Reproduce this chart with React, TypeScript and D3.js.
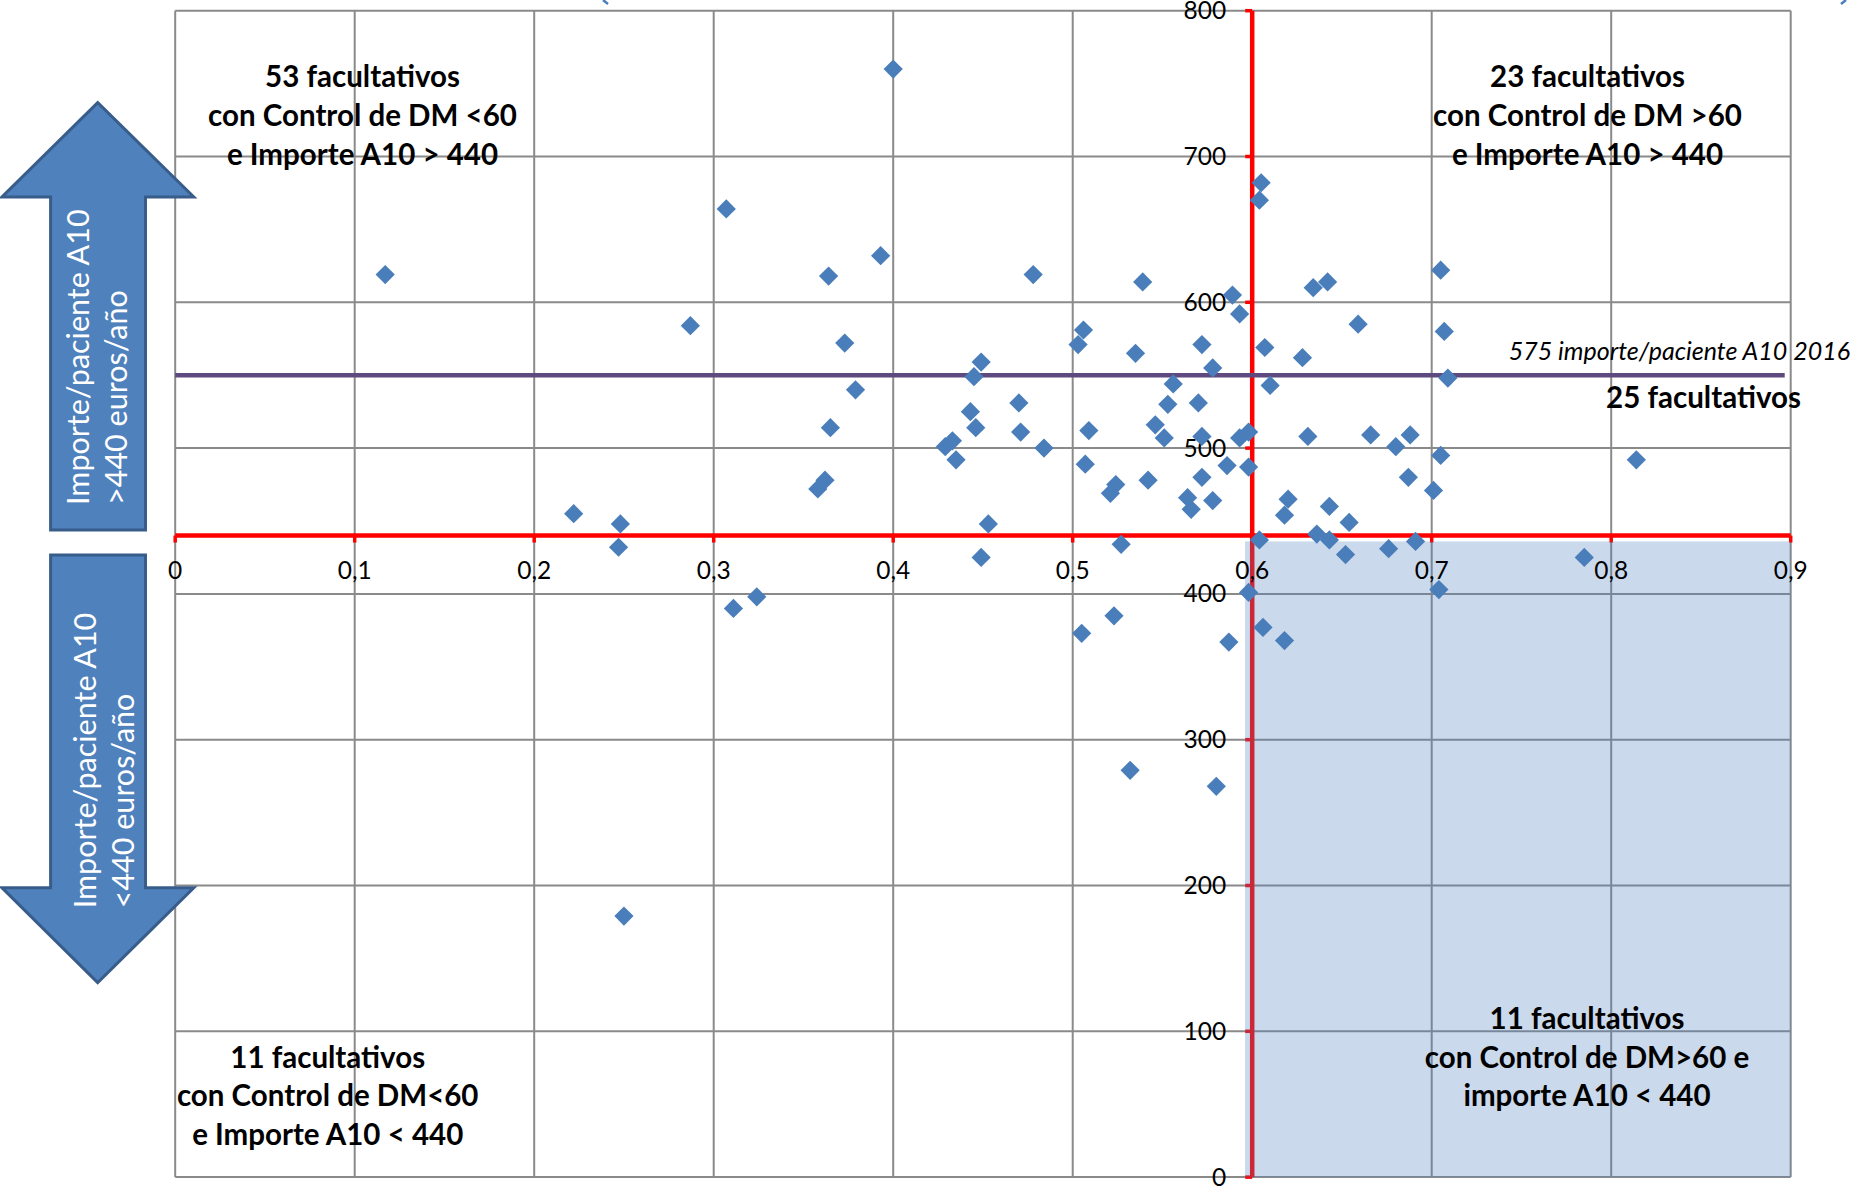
import React from "react";
import * as d3 from "d3";

// Control DM (fraction) per facultativo
const controlDM = [
  0.117, 0.222, 0.247, 0.248, 0.250, 0.287, 0.307, 0.311, 0.324, 0.358,
  0.362, 0.364, 0.365, 0.373, 0.379, 0.393, 0.400, 0.429, 0.433, 0.435,
  0.443, 0.445, 0.446, 0.449, 0.449, 0.453, 0.470, 0.471, 0.478, 0.484,
  0.503, 0.505, 0.506, 0.507, 0.509, 0.521, 0.523, 0.524, 0.527, 0.532,
  0.535, 0.539, 0.542, 0.546, 0.551, 0.553, 0.556, 0.564, 0.566, 0.570,
  0.572, 0.572, 0.572, 0.578, 0.578, 0.580, 0.586, 0.587, 0.589, 0.593,
  0.593, 0.598, 0.598, 0.598, 0.604, 0.604, 0.605, 0.606, 0.607, 0.610,
  0.618, 0.618, 0.620, 0.628, 0.631, 0.634, 0.636, 0.642, 0.643, 0.643,
  0.652, 0.654, 0.659, 0.666, 0.676, 0.680, 0.687, 0.688, 0.691, 0.701,
  0.704, 0.705, 0.705, 0.707, 0.709, 0.785, 0.814,
];
// Importe/paciente A10 (euros/año)
const importe = [
  619, 455, 432, 448, 179, 584, 664, 390, 398, 472,
  478, 618, 514, 572, 540, 632, 760, 501, 505, 492,
  525, 549, 514, 559, 425, 448, 531, 511, 619, 500,
  571, 373, 581, 489, 512, 469, 385, 475, 434, 279,
  565, 614, 478, 516, 507, 530, 544, 466, 458, 531,
  571, 508, 480, 555, 464, 268, 488, 367, 605, 592,
  507, 511, 487, 401, 437, 670, 682, 377, 569, 543,
  454, 368, 465, 562, 508, 610, 441, 614, 460, 437,
  427, 449, 585, 509, 431, 501, 480, 509, 436, 471,
  403, 622, 495, 580, 548, 425, 492,
];

const xTicks = [0, 0.1, 0.2, 0.3, 0.4, 0.5, 0.6, 0.7, 0.8, 0.9];
const xTickLabels = ["0", "0,1", "0,2", "0,3", "0,4", "0,5", "0,6", "0,7", "0,8", "0,9"];
const yTicks = [0, 100, 200, 300, 400, 500, 600, 700, 800];
const yTickLabels = ["0", "100", "200", "300", "400", "500", "600", "700", "800"];

const xThreshold = 0.6;
const yThreshold = 440;
const refLineValue = 550;
const refLineLabel = "575 importe/paciente A10 2016";
const refLineCount = "25 facultativos";
const shadeX = [0.596, 0.9];
const shadeY = [0, 436];

const quadTopLeft = ["53 facultativos", "con Control de DM <60", "e Importe A10 > 440"];
const quadTopRight = ["23 facultativos", "con Control de DM >60", "e Importe A10 > 440"];
const quadBottomLeft = ["11 facultativos", "con Control de DM<60", "e Importe A10 < 440"];
const quadBottomRight = ["11 facultativos", "con Control de DM>60 e", "importe A10 < 440"];
const arrowUpText = ["Importe/paciente A10", ">440 euros/año"];
const arrowDownText = ["Importe/paciente A10", "<440 euros/año"];

const W = 1857;
const H = 1187;
const FONT = 'Lato, "Open Sans", sans-serif';

export default function App() {
  const x = d3.scaleLinear().domain([0, 0.9]).range([175.2, 1790.7]);
  const y = d3.scaleLinear().domain([0, 800]).range([1177.1, 10.7]);
  const diamond = d3.symbol().type(d3.symbolSquare).size(185)();

  const points = controlDM.map((v, i) => ({ cx: x(v), cy: y(importe[i]) }));

  const quad = (lines: string[], cx: number, y0: number, key: string) => (
    <g key={key}>
      {lines.map((t, i) => (
        <text
          key={i}
          x={cx}
          y={y0 + i * 38.6}
          textAnchor="middle"
          fontFamily={FONT}
          fontWeight="bold"
          fontSize={29.5}
          fill="#000"
        >
          {t}
        </text>
      ))}
    </g>
  );

  const arrowUp =
    "M97.7,102.6 L193.8,197 L145.5,197 L145.5,530 L50.6,530 L50.6,197 L2,197 Z";
  const arrowDown =
    "M50.6,555 L145.5,555 L145.5,887.8 L193.8,887.8 L97.7,982.6 L2,887.8 L50.6,887.8 Z";

  return (
    <svg
      width={W}
      height={H}
      style={{ position: "absolute", left: 0, top: 0, display: "block", background: "#fff" }}
    >
      <rect x={0} y={0} width={W} height={H} fill="#fff" />

      {/* gridlines */}
      {xTicks.map((t, i) => (
        <line key={"gx" + i} x1={x(t)} x2={x(t)} y1={y(0)} y2={y(800)} stroke="#8a8a8a" strokeWidth={2} />
      ))}
      {yTicks.map((t, i) => (
        <line key={"gy" + i} x1={x(0)} x2={x(0.9)} y1={y(t)} y2={y(t)} stroke="#8a8a8a" strokeWidth={2} />
      ))}

      {/* red axes */}
      <line x1={x(xThreshold)} x2={x(xThreshold)} y1={y(800)} y2={y(0)} stroke="#ff0000" strokeWidth={4.5} />
      {yTicks.map((t, i) => (
        <line key={"ryt" + i} x1={x(xThreshold) - 7} x2={x(xThreshold)} y1={y(t)} y2={y(t)} stroke="#ff0000" strokeWidth={3.5} />
      ))}
      <line x1={x(0)} x2={x(0.9)} y1={y(yThreshold)} y2={y(yThreshold)} stroke="#ff0000" strokeWidth={4.5} />
      {xTicks.map((t, i) => (
        <line key={"rxt" + i} x1={x(t)} x2={x(t)} y1={y(yThreshold)} y2={y(yThreshold) + 7} stroke="#ff0000" strokeWidth={3.5} />
      ))}

      {/* shaded quadrant */}
      <rect
        x={x(shadeX[0])}
        y={y(shadeY[1])}
        width={x(shadeX[1]) - x(shadeX[0])}
        height={y(shadeY[0]) - y(shadeY[1])}
        fill="#4f81bd"
        fillOpacity={0.3}
      />

      {/* reference line */}
      <line x1={x(0)} x2={x(0.9) - 6} y1={y(refLineValue)} y2={y(refLineValue)} stroke="#5e4a7e" strokeWidth={4.5} />

      {/* tick labels */}
      {xTicks.map((t, i) => (
        <text key={"xl" + i} x={x(t)} y={578.6} textAnchor="middle" fontFamily={FONT} fontSize={24.5} fill="#000">
          {xTickLabels[i]}
        </text>
      ))}
      {yTicks.map((t, i) => (
        <text
          key={"yl" + i}
          x={x(xThreshold) - 26}
          y={y(t)}
          dy="0.35em"
          textAnchor="end"
          fontFamily={FONT}
          fontSize={24.5}
          fill="#000"
        >
          {yTickLabels[i]}
        </text>
      ))}

      {/* points */}
      {points.map((p, i) => (
        <path key={"p" + i} d={diamond} transform={`translate(${p.cx},${p.cy}) rotate(45)`} fill="#4a7ebb" />
      ))}

      {/* reference labels */}
      <text x={1850} y={359.7} textAnchor="end" fontFamily={FONT} fontStyle="italic" fontSize={25} fill="#000">
        {refLineLabel}
      </text>
      <text x={1703.5} y={407.6} textAnchor="middle" fontFamily={FONT} fontWeight="bold" fontSize={29.5} fill="#000">
        {refLineCount}
      </text>

      {/* quadrant labels */}
      {quad(quadTopLeft, 362.5, 87.3, "q1")}
      {quad(quadTopRight, 1587.5, 87.3, "q2")}
      {quad(quadBottomLeft, 327.7, 1067.8, "q3")}
      {quad(quadBottomRight, 1587, 1029, "q4")}

      {/* arrows */}
      <path d={arrowUp} fill="#4f81bd" stroke="#385d8a" strokeWidth={3} strokeLinejoin="miter" />
      <path d={arrowDown} fill="#4f81bd" stroke="#385d8a" strokeWidth={3} strokeLinejoin="miter" />
      {arrowUpText.map((t, i) => (
        <text
          key={"au" + i}
          transform={`translate(${88.5 + i * 38.7},505) rotate(-90)`}
          fontFamily={FONT}
          fontSize={30.5}
          fill="#fff"
        >
          {t}
        </text>
      ))}
      {arrowDownText.map((t, i) => (
        <text
          key={"ad" + i}
          transform={`translate(${95.5 + i * 38.7},908.3) rotate(-90)`}
          fontFamily={FONT}
          fontSize={30.5}
          fill="#fff"
        >
          {t}
        </text>
      ))}

      {/* fragments of out-of-frame shapes at the top edge */}
      <path d="M603,0 L608,4" stroke="#4a7ebb" strokeWidth={2.5} />
      <path d="M1846,0 L1841,4" stroke="#4a7ebb" strokeWidth={2.5} />
    </svg>
  );
}
